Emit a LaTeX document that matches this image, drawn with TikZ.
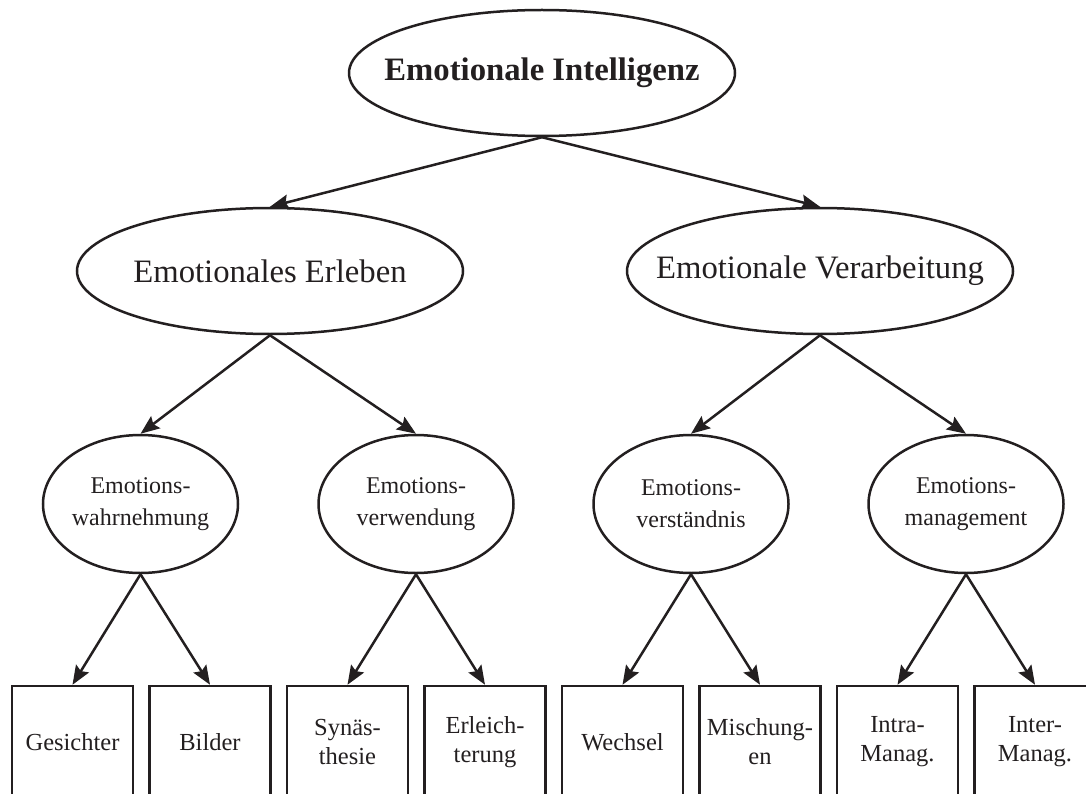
\documentclass[tikz,border=0pt]{standalone}
\usepackage{fontspec}
\setmainfont{Liberation Serif}
\usepackage{xcolor}
\usepackage{tikz}
\usetikzlibrary{shapes.geometric,arrows.meta}
\definecolor{ink}{RGB}{35,31,32}

\begin{document}
\begin{tikzpicture}[
x=1pt,y=-1pt,
big/.style={ellipse, draw=ink, line width=2.5pt, inner sep=0pt, minimum width=386pt, minimum height=126pt, text=ink, font=\fontsize{32.7}{36}\selectfont},
small/.style={ellipse, draw=ink, line width=2.5pt, inner sep=0pt, minimum width=195pt, minimum height=138pt, align=center, text=ink, font=\fontsize{24}{32}\selectfont},
leaf/.style={rectangle, draw=ink, line width=2.5pt, inner sep=0pt, minimum width=121pt, minimum height=112pt, align=center, text=ink, font=\fontsize{24.5}{29}\selectfont},
route/.style={->, >={Stealth[length=19pt,width=15pt,inset=3pt]}, line width=2.5pt, draw=ink},
]

%page frame, boxes run off bottom and right
\useasboundingbox (0,0) rectangle (1086,794);
\clip (0,0) rectangle (1086,794);

%ellipses
\node(ei)[big, font=\fontsize{32.7}{36}\selectfont\bfseries] at (542,73){\makebox[0pt]{Emotionale Intelligenz}};
\node(erl)[big] at (270,271){\makebox[0pt]{Emotionales Erleben}};
\node(vera)[big] at (820,271){\makebox[0pt]{Emotionale Verarbeitung}};
\node(wahr)[small] at (140.5,504){Emotions-\\wahrnehmung};
\node(verw)[small] at (416,504){Emotions-\\verwendung};
\node(verst)[small] at (691,504){Emotions-\\verständnis};
\node(mgmt)[small] at (966,504){Emotions-\\management};

%leaf boxes
\node(ges)[leaf]   at (72.5,742){Gesichter};
\node(bild)[leaf]  at (210,742){Bilder};
\node(syn)[leaf]   at (347.5,742){Synäs-\\thesie};
\node(erlei)[leaf] at (485,742){Erleich-\\terung};
\node(wech)[leaf]  at (622.5,742){Wechsel};
\node(misch)[leaf] at (760,742){Mischung-\\en};
\node(intra)[leaf] at (897.5,742){Intra-\\Manag.};
\node(inter)[leaf] at (1035,742){Inter-\\Manag.};

%arrows
\draw[route] (ei.south) -- (erl.north);
\draw[route] (ei.south) -- (vera.north);
\draw[route] (erl.south) -- (wahr.north);
\draw[route] (erl.south) -- (verw.north);
\draw[route] (vera.south) -- (verst.north);
\draw[route] (vera.south) -- (mgmt.north);
\draw[route] (wahr.south) -- (ges.north);
\draw[route] (wahr.south) -- (bild.north);
\draw[route] (verw.south) -- (syn.north);
\draw[route] (verw.south) -- (erlei.north);
\draw[route] (verst.south) -- (wech.north);
\draw[route] (verst.south) -- (misch.north);
\draw[route] (mgmt.south) -- (intra.north);
\draw[route] (mgmt.south) -- (inter.north);

\end{tikzpicture}
\end{document}
